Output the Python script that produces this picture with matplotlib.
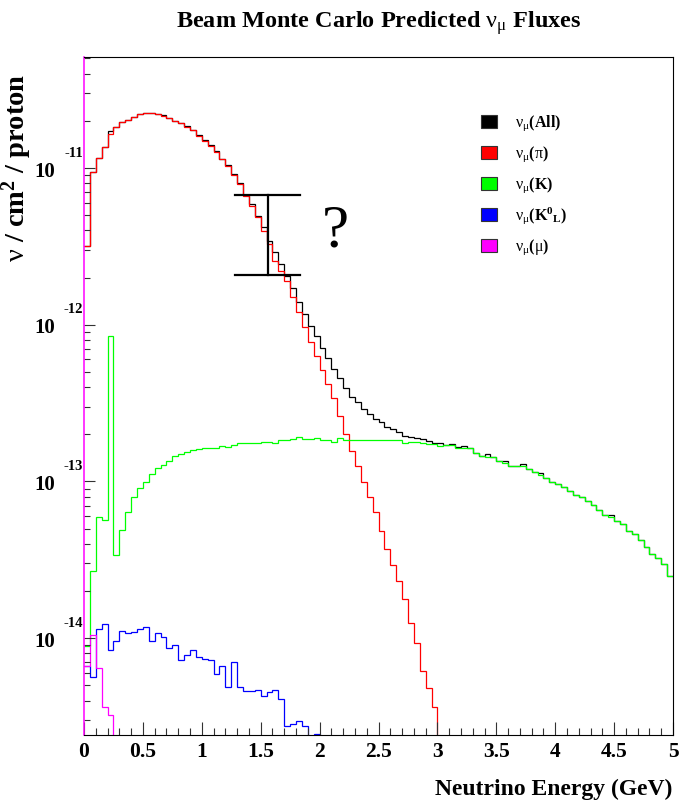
import numpy as np
import matplotlib
matplotlib.use("Agg")
import matplotlib.pyplot as plt
from matplotlib.ticker import MultipleLocator, FixedLocator, LogLocator, NullFormatter, FuncFormatter
from matplotlib.patches import Rectangle

plt.rcParams['font.family'] = ['Liberation Serif', 'DejaVu Serif']
plt.rcParams['mathtext.fontset'] = 'custom'
plt.rcParams['mathtext.rm'] = 'Liberation Serif'
plt.rcParams['mathtext.bf'] = 'Liberation Serif:bold'
plt.rcParams['mathtext.it'] = 'Liberation Serif:italic'

# ---------------- data (flux per 0.05 GeV bin, units of 1e-13 nu/cm^2/proton) -------------
UNIT = 1e-13
energy_edges = np.linspace(0.0, 5.0, 101)   # GeV, 100 bins

flux_all = [
    32.0, 94.0, 116, 136, 173, 184, 196, 203, 212, 221,
    224, 224, 222, 217, 210, 201, 194, 185, 176, 162,
    150, 140, 128, 115, 104, 91.6, 80.0, 67.3, 58.9, 49.6,
    41.8, 34.4, 29.0, 24.4, 20.6, 17.1, 14.0, 11.7, 9.77, 8.43,
    7.07, 6.10, 5.19, 4.55, 3.93, 3.46, 3.20, 2.90, 2.70, 2.50,
    2.38, 2.23, 2.16, 2.08, 1.96, 1.91, 1.88, 1.86, 1.82, 1.76,
    1.76, 1.71, 1.73, 1.65, 1.68, 1.63, 1.52, 1.46, 1.49, 1.44,
    1.36, 1.36, 1.26, 1.26, 1.30, 1.20, 1.15, 1.14, 1.05, 0.996,
    0.962, 0.925, 0.872, 0.823, 0.799, 0.750, 0.710, 0.657, 0.613, 0.610,
    0.556, 0.532, 0.485, 0.460, 0.423, 0.383, 0.344, 0.323, 0.297, 0.250,
]

flux_pi = [
    31.9, 93.9, 116, 136, 165, 184, 196, 203, 212, 221,
    223, 223, 221, 216, 209, 200, 193, 184, 175, 161,
    149, 139, 127, 114, 103, 90.6, 79.0, 66.6, 57.4, 48.5,
    39.8, 32.7, 25.6, 22.1, 19.1, 15.0, 12.1, 9.62, 7.79, 6.34,
    5.14, 4.18, 3.39, 2.63, 2.01, 1.57, 1.26, 0.999, 0.801, 0.635,
    0.485, 0.370, 0.293, 0.232, 0.178, 0.125, 0.0926, 0.0617, 0.0483, 0.0362,
] + [0.0] * 40

flux_k = [
    0.0894, 0.267, 0.590, 0.570, 8.51, 0.339, 0.492, 0.640, 0.799, 0.904,
    0.987, 1.11, 1.21, 1.28, 1.36, 1.45, 1.50, 1.53, 1.59, 1.61,
    1.63, 1.63, 1.63, 1.69, 1.67, 1.71, 1.75, 1.75, 1.75, 1.75,
    1.79, 1.79, 1.76, 1.85, 1.84, 1.86, 1.91, 1.86, 1.86, 1.88,
    1.85, 1.85, 1.79, 1.88, 1.85, 1.85, 1.85, 1.83, 1.85, 1.83,
    1.85, 1.85, 1.85, 1.84, 1.75, 1.78, 1.79, 1.76, 1.73, 1.73,
    1.69, 1.72, 1.72, 1.63, 1.63, 1.63, 1.52, 1.46, 1.44, 1.44,
    1.36, 1.32, 1.26, 1.26, 1.26, 1.20, 1.15, 1.10, 1.05, 0.996,
    0.962, 0.925, 0.872, 0.823, 0.799, 0.750, 0.710, 0.657, 0.613, 0.590,
    0.556, 0.532, 0.485, 0.460, 0.423, 0.383, 0.344, 0.323, 0.297, 0.250,
]

flux_k0l = [
    0.0664, 0.0562, 0.115, 0.124, 0.0843, 0.0962, 0.111, 0.108, 0.110, 0.114,
    0.117, 0.0958, 0.108, 0.101, 0.0865, 0.0908, 0.0728, 0.0780, 0.0843, 0.0754,
    0.0735, 0.0725, 0.0590, 0.0667, 0.0485, 0.0701, 0.0490, 0.0462, 0.0462, 0.0466,
    0.0429, 0.0451, 0.0466, 0.0409, 0.0276, 0.0283, 0.0297, 0.0276, 0.0, 0.0243,
] + [0.0] * 60

flux_mu = [0.0664, 0.104, 0.0645, 0.0362, 0.0321] + [0.0] * 95

series_labels = [r'$\mathrm{\nu}_{\mathrm{\mu}}$(All)',
                 r'$\mathrm{\nu}_{\mathrm{\mu}}$($\mathrm{\pi}$)',
                 r'$\mathrm{\nu}_{\mathrm{\mu}}$(K)',
                 r'$\mathrm{\nu}_{\mathrm{\mu}}$(K$^{\mathbf{0}}$$_{\mathbf{L}}$)',
                 r'$\mathrm{\nu}_{\mathrm{\mu}}$($\mathrm{\mu}$)']
series_colors = ['#000000', '#ff0000', '#00ff00', '#0000ff', '#ff00ff']

# "uncertainty" bracket annotation and question mark
bracket_energy = 1.56
bracket_half_width = 0.275
bracket_low = 2.08e-12
bracket_high = 6.69e-12
qmark_energy = 2.13
qmark_flux = 4.0e-12

decades = [1e-14, 1e-13, 1e-12, 1e-11]
decade_exps = ['-14', '-13', '-12', '-11']

# ---------------- figure -------------
W, H = 679, 803
fig = plt.figure(figsize=(W / 100, H / 100), dpi=100)
fig.patch.set_facecolor('white')
ax = fig.add_axes([84 / W, 1 - 736 / H, 589 / W, 678 / H])
ax.set_yscale('log', nonpositive='clip')

all_series = [flux_all, flux_pi, flux_k, flux_k0l, flux_mu]
for vals, col in zip(all_series, series_colors):
    ax.stairs(np.asarray(vals) * UNIT, energy_edges, baseline=None,
              color=col, lw=0.9)

ax.set_xlim(0, 5)
ax.set_ylim(2.41e-15, 5.11e-11)

# bracket + ?
ax.plot([bracket_energy, bracket_energy], [bracket_low, bracket_high], color='k', lw=1.6)
for yv in (bracket_low, bracket_high):
    ax.plot([bracket_energy - bracket_half_width, bracket_energy + bracket_half_width],
            [yv, yv], color='k', lw=1.6)
ax.text(qmark_energy, qmark_flux, '?', fontsize=44, ha='center', va='center',
        family='Liberation Serif')

# axes styling
for s in ax.spines.values():
    s.set_linewidth(0.8)
    s.set_color('black')
ax.spines['left'].set_color('#ff00ff')
ax.spines['left'].set_linewidth(1.1)

ax.xaxis.set_major_locator(MultipleLocator(0.5))
ax.xaxis.set_minor_locator(MultipleLocator(0.1))
ax.xaxis.set_major_formatter(FuncFormatter(lambda v, p: '%g' % v))
ax.yaxis.set_major_locator(FixedLocator(decades))
ax.yaxis.set_major_formatter(FuncFormatter(lambda v, p: '10'))
ax.yaxis.set_minor_locator(LogLocator(base=10, subs=np.arange(2, 10), numticks=30))
ax.yaxis.set_minor_formatter(NullFormatter())

ax.tick_params(axis='x', which='major', direction='in', length=9.4, width=0.8,
               top=False, bottom=True, pad=4, labelsize=15.5, color='#333333')
ax.tick_params(axis='x', which='minor', direction='in', length=5, width=0.8,
               top=False, bottom=True, color='#333333')
ax.tick_params(axis='y', which='major', direction='in', length=8, width=0.8,
               left=True, right=False, pad=21, labelsize=15, color='#333333')
ax.tick_params(axis='y', which='minor', direction='in', length=4.3, width=0.8,
               left=True, right=False, color='#333333')
for lab in ax.get_xticklabels() + ax.get_yticklabels():
    lab.set_fontweight('bold')

ytr = ax.get_yaxis_transform()
for dv, ex in zip(decades, decade_exps):
    ax.annotate(ex, xy=(0, dv), xycoords=ytr, xytext=(-0.8, 11.5),
                textcoords='offset points', ha='right', va='center',
                fontsize=10.5, fontweight='bold')

# texts
fig.text(379 / W, 1 - 28 / H,
         r'Beam Monte Carlo Predicted $\mathrm{\nu}_{\mathrm{\mu}}$ Fluxes',
         ha='center', va='baseline', fontsize=17.5, fontweight='bold')
fig.text(672 / W, 1 - 789 / H, 'Neutrino Energy (GeV)', ha='right', va='center',
         fontsize=17, fontweight='bold')
fig.text(17 / W, 1 - 168 / H, r'$\mathrm{\nu}$ / cm$^{\mathbf{2}}$ / proton',
         rotation=90, ha='center', va='center', fontsize=20.5, fontweight='bold')

# legend (manual, ROOT style)
for i, (lab, col) in enumerate(zip(series_labels, series_colors)):
    yc = 122 + 31 * i
    fig.add_artist(Rectangle((481 / W, 1 - (yc + 6.5) / H), 16 / W, 13 / H,
                             transform=fig.transFigure, facecolor=col,
                             edgecolor='#333333', lw=0.8))
    fig.text(515 / W, 1 - (yc + 4.5) / H, lab, ha='left', va='baseline',
             fontsize=11.5, fontweight='bold')

fig.savefig('out.png', dpi=100, facecolor='white')
